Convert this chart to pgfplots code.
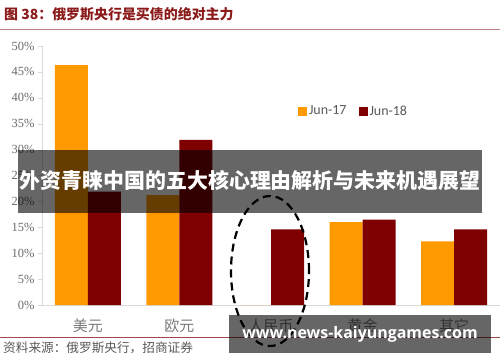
\documentclass[border=0pt]{standalone}
\usepackage{fontspec}
\usepackage{pgfplots}
\pgfplotsset{compat=1.18}
\setmainfont{Liberation Serif}
\newfontfamily\cjk{Noto Sans CJK SC}
\newfontfamily\calib{Carlito}
\newfontfamily\osans{Open Sans}
\definecolor{cOrange}{HTML}{FF9900}
\definecolor{cRed}{HTML}{7F0000}
\definecolor{titlered}{HTML}{8B1A1A}
\definecolor{lineRed}{HTML}{C08080}
\definecolor{txtgray}{HTML}{595959}
\definecolor{axgray}{HTML}{D9D9D9}
\begin{document}
\begin{tikzpicture}[x=1bp,y=1bp]
\useasboundingbox (0,0) rectangle (500,362);
\node[anchor=west, text=titlered, font=\cjk\bfseries\fontsize{14}{16}\selectfont, inner sep=0] at (4,348) {图 38：俄罗斯央行是买债的绝对主力};
\draw[lineRed, line width=1bp] (0,333) -- (500,333);
\begin{axis}[
  at={(42bp,57bp)}, anchor=south west,
  scale only axis, width=458bp, height=259bp,
  xmin=-0.5, xmax=4.5, ymin=0, ymax=50,
  ybar=0pt, bar width=33bp,
  axis x line=bottom, axis y line=left,
  axis line style={axgray, -},
  x axis line style={axgray,-},
  xtick={0,1,2,3,4},
  xticklabels={美元,欧元,人民币,黄金,其它},
  xtick style={draw=none},
  xticklabel style={font=\cjk\fontsize{15}{17}\selectfont, text=txtgray!80, yshift=-6bp},
  ytick={0,5,...,50},
  yticklabel={\pgfmathprintnumber{\tick}\%},
  yticklabel style={font=\fontsize{12.5}{14}\selectfont, text=txtgray!90},
  /pgf/number format/assume math mode=true,
  ytick style={axgray},
  tick align=outside, major tick length=4bp,
  legend style={at={(0.552,0.749)}, anchor=west, draw=none, fill=none,
    legend columns=2, font=\calib\fontsize{14}{16}\selectfont, text=txtgray,
    /tikz/every even column/.append style={column sep=10bp}},
  legend image code/.code={\fill[#1] (0bp,-4.5bp) rectangle (9bp,4.5bp);},
]
\addplot[fill=cOrange, draw=none] coordinates {(0,46.3) (1,21.2) (2,0) (3,16.0) (4,12.3)};
\addplot[fill=cRed, draw=none] coordinates {(0,21.9) (1,31.9) (2,14.6) (3,16.5) (4,14.6)};
\legend{Jun-17, Jun-18}
\end{axis}
\draw[black, line width=2.2bp, dash pattern=on 8bp off 5bp] (270,91) ellipse [x radius=39, y radius=75];
\draw[titlered!80, line width=0.8bp] (0,25) -- (500,25);
\node[anchor=west, text=txtgray, font=\cjk\fontsize{12.7}{14}\selectfont, inner sep=0] at (3,14) {资料来源：俄罗斯央行，招商证券};
\fill[black, opacity=0.6] (18,149) rectangle (482,212);
\node[text=white, font=\cjk\bfseries\fontsize{21}{24}\selectfont, inner sep=0] at (250,181) {外资青睐中国的五大核心理由解析与未来机遇展望};
\fill[black, opacity=0.6] (229,9) rectangle (491,47);
\node[text=white, font=\osans\bfseries\fontsize{16}{18}\selectfont, inner sep=0] at (360,28) {www.news-kaiyungames.com};
\end{tikzpicture}
\end{document}
